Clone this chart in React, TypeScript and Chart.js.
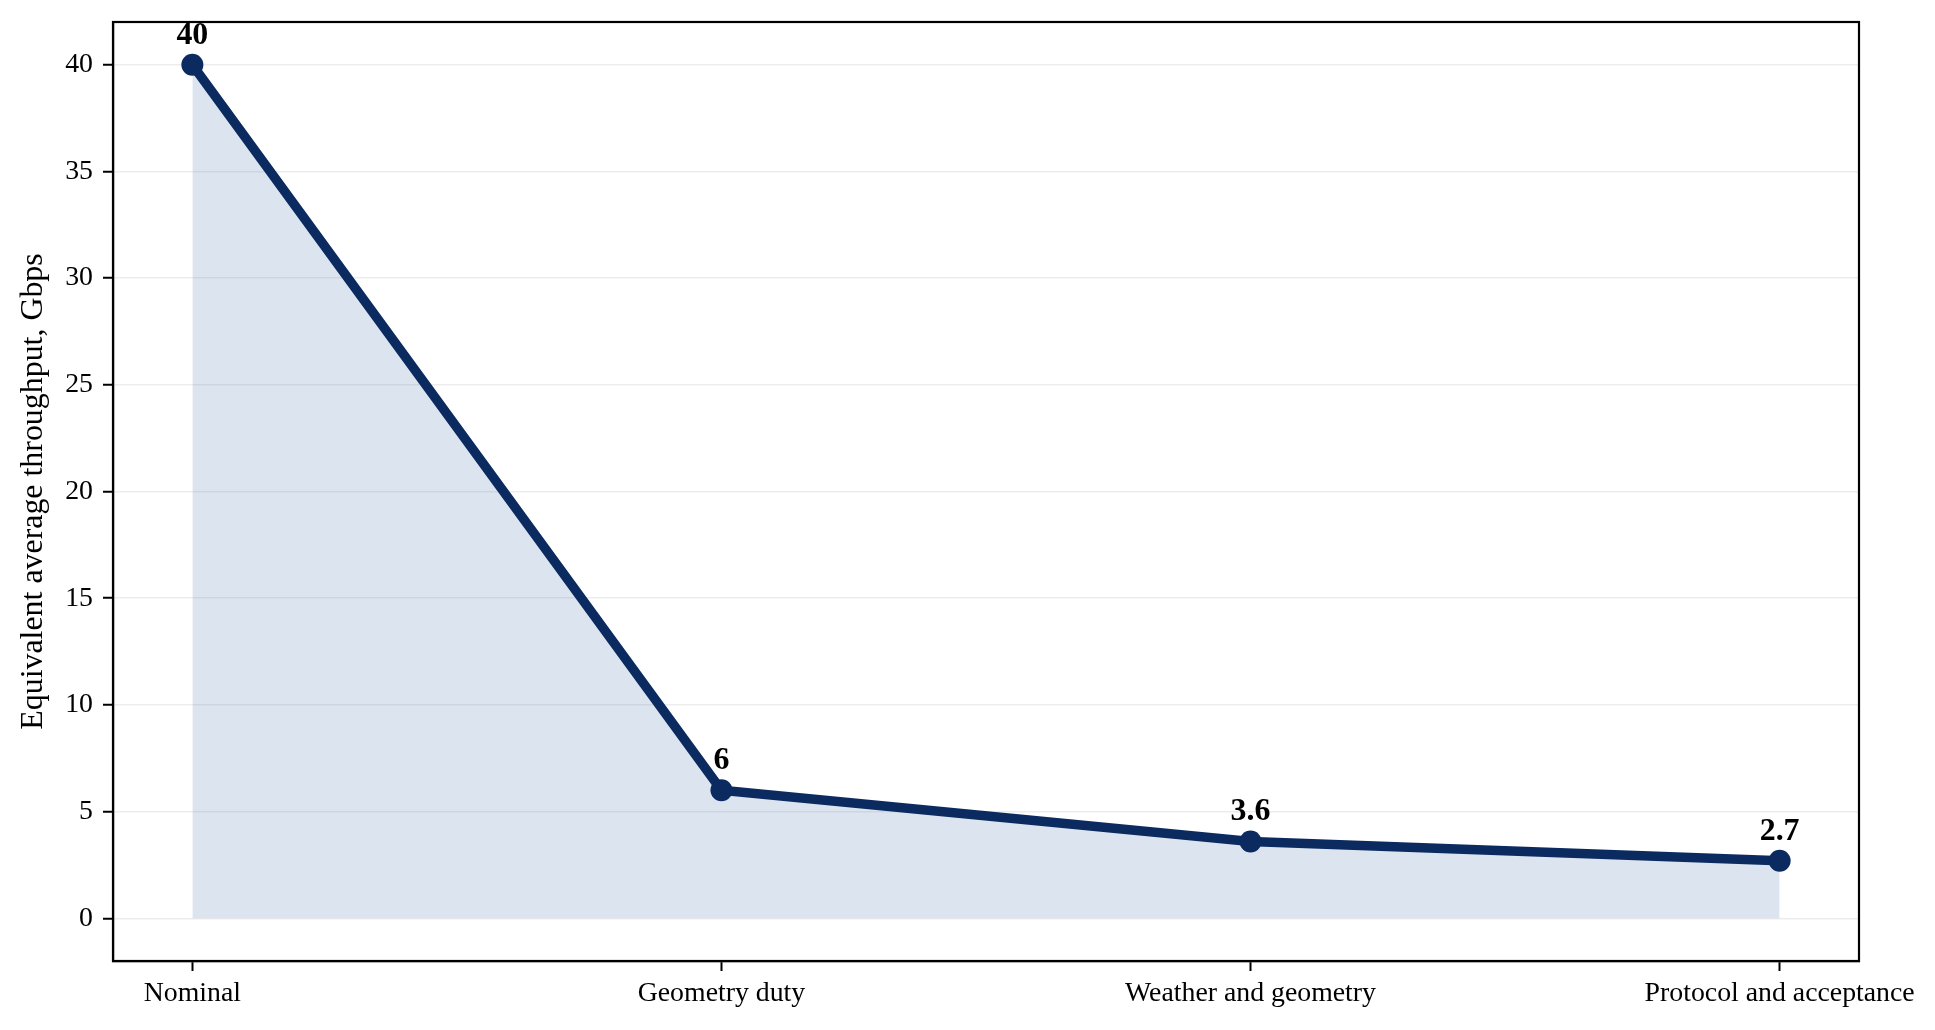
import React, { useEffect, useRef } from "react";
import { Chart, registerables } from "chart.js";

Chart.register(...registerables);

const categories = ["Nominal", "Geometry duty", "Weather and geometry", "Protocol and acceptance"];
const throughput = [40, 6, 3.6, 2.7];
const yTicks = [0, 5, 10, 15, 20, 25, 30, 35, 40];
const yTitle = "Equivalent average throughput, Gbps";

const NAVY = "#0b2a5f";
const FONT = "'Liberation Serif', 'Times New Roman', Times, serif";
const FS = 27.8;
const FS_BIG = 31.9;

const framePlugin = {
  id: "frameAndLabels",
  afterDatasetsDraw(chart: any) {
    const { ctx, chartArea } = chart;
    ctx.save();
    ctx.strokeStyle = "#000";
    ctx.lineWidth = 2.2;
    ctx.strokeRect(chartArea.left, chartArea.top, chartArea.right - chartArea.left, chartArea.bottom - chartArea.top);
    const meta = chart.getDatasetMeta(0);
    ctx.fillStyle = "#000";
    ctx.font = `bold ${FS_BIG}px ${FONT}`;
    ctx.textAlign = "center";
    ctx.textBaseline = "alphabetic";
    meta.data.forEach((el: any, i: number) => {
      ctx.fillText(String(throughput[i]), el.x, el.y - 21);
    });
    ctx.restore();
  },
};

export default function App() {
  const ref = useRef<HTMLCanvasElement>(null);
  useEffect(() => {
    if (!ref.current) return;
    const chart = new Chart(ref.current, {
      type: "line",
      data: {
        datasets: [
          {
            data: throughput.map((v, i) => ({ x: i, y: v })),
            borderColor: NAVY,
            borderWidth: 9.5,
            backgroundColor: "rgba(74,120,176,0.2)",
            fill: "origin",
            pointRadius: 11,
            pointHoverRadius: 11,
            pointBackgroundColor: NAVY,
            pointBorderWidth: 0,
            tension: 0,
            clip: false as any,
          },
        ],
      },
      options: {
        responsive: false,
        animation: false,
        devicePixelRatio: 1,
        layout: { padding: { left: 0, top: 22, right: 76, bottom: 0 } },
        plugins: { legend: { display: false }, tooltip: { enabled: false } },
        scales: {
          x: {
            type: "linear",
            min: -0.15,
            max: 3.15,
            afterBuildTicks: (s: any) => {
              s.ticks = categories.map((_, i) => ({ value: i }));
            },
            afterFit: (s: any) => {
              s.height = 69;
              s.paddingLeft = 0;
              s.paddingRight = 0;
            },
            ticks: {
              callback: (v: any) => categories[Math.round(Number(v))] ?? "",
              color: "#000",
              font: { family: FONT, size: FS },
              padding: 6,
              maxRotation: 0,
              autoSkip: false,
            },
            grid: { drawOnChartArea: false, drawTicks: true, tickLength: 10, tickColor: "#000", tickWidth: 2 },
            border: { display: true, color: "#000", width: 2.2 },
          },
          y: {
            type: "linear",
            min: -2,
            max: 42,
            afterBuildTicks: (s: any) => {
              s.ticks = yTicks.map((v) => ({ value: v }));
            },
            afterFit: (s: any) => {
              s.width = 113;
              s.paddingTop = 0;
              s.paddingBottom = 0;
            },
            ticks: {
              color: "#000",
              font: { family: FONT, size: FS },
              padding: 10,
            },
            grid: { color: "rgba(0,0,0,0.075)", lineWidth: 1.5, tickLength: 10, tickColor: "#000", tickWidth: 2 },
            border: { display: true, color: "#000", width: 2.2 },
            title: {
              display: true,
              text: yTitle,
              color: "#000",
              font: { family: FONT, size: FS_BIG },
              padding: { top: 14.5, bottom: 0 },
            },
          },
        },
      },
      plugins: [framePlugin],
    });
    return () => chart.destroy();
  }, []);
  return (
    <div style={{ position: "fixed", left: 0, top: 0, width: 1935, height: 1030, background: "#fff" }}>
      <canvas ref={ref} width={1935} height={1030} style={{ display: "block" }} />
    </div>
  );
}
